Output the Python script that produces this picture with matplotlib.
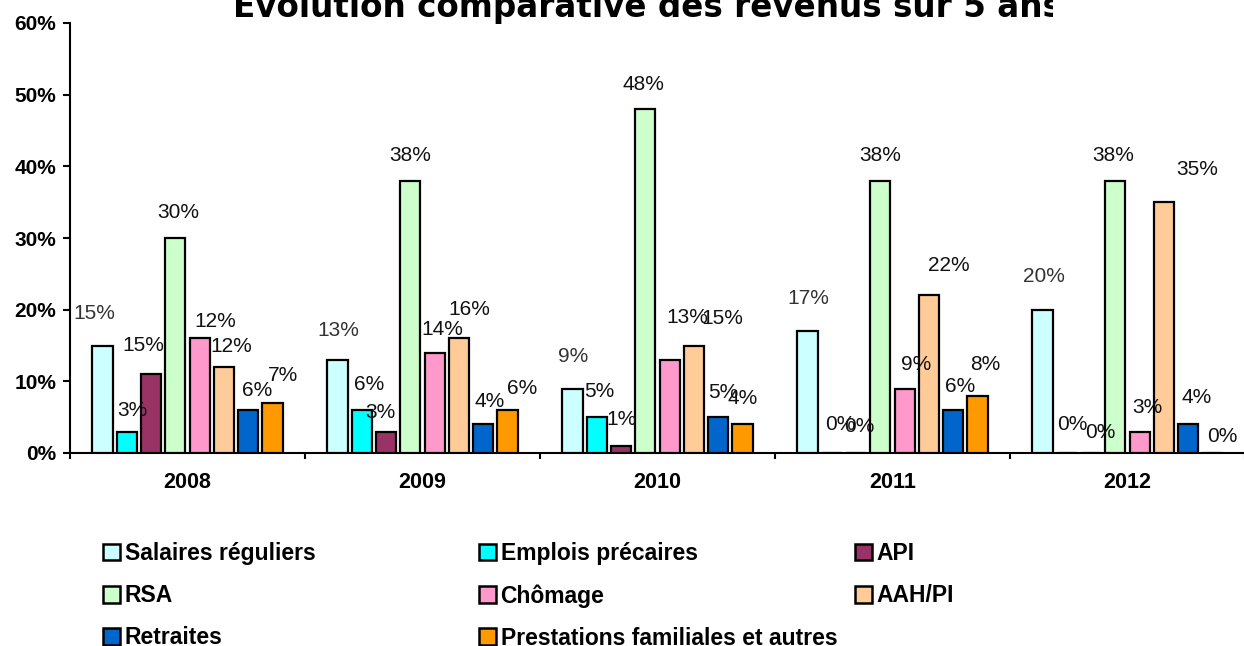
import matplotlib
matplotlib.use('Agg')
import matplotlib.pyplot as plt
from matplotlib.transforms import Bbox
from matplotlib.patches import Patch
from matplotlib.ticker import FixedLocator, FuncFormatter

# ---------------- data ----------------
years = ['2008', '2009', '2010', '2011', '2012']
series_names = ['Salaires réguliers', 'Emplois précaires', 'API', 'RSA',
                'Chômage', 'AAH/PI', 'Retraites', 'Prestations familiales et autres']

salaires = [15, 13, 9, 17, 20]
emplois = [3, 6, 5, 0, 0]
api = [11, 3, 1, 0, 0]
rsa = [30, 38, 48, 38, 38]
chomage = [16, 14, 13, 9, 3]
aah = [12, 16, 15, 22, 35]
retraites = [6, 4, 5, 6, 4]
prestations = [7, 6, 4, 8, 0]

# data labels as printed on the chart
lab_salaires = ['15%', '13%', '9%', '17%', '20%']
lab_emplois = ['3%', '6%', '5%', '0%', '0%']
lab_api = ['15%', '3%', '1%', '0%', '0%']
lab_rsa = ['30%', '38%', '48%', '38%', '38%']
lab_chomage = ['12%', '14%', '13%', '9%', '3%']
lab_aah = ['12%', '16%', '15%', '22%', '35%']
lab_retraites = ['6%', '4%', '5%', '6%', '4%']
lab_prestations = ['7%', '6%', '4%', '8%', '0%']

title_text = 'Evolution comparative des revenus sur 5 ans'

values = [salaires, emplois, api, rsa, chomage, aah, retraites, prestations]
labels = [lab_salaires, lab_emplois, lab_api, lab_rsa, lab_chomage, lab_aah,
          lab_retraites, lab_prestations]

# ---------------- styles ----------------
colors = ['#CCFFFF', '#00FFFF', '#993366', '#CCFFCC', '#FF99CC', '#FFCC99',
          '#0066CC', '#FF9900']
label_colors = ['#333333'] + ['#111111'] * 7

# label offsets (pixels) relative to bar top centre: dx, dy(up) to text centre
off_dx = [
    [-8, 1, 1, 1, 1],
    [6, 7, 3, 9, 6],
    [-8, -6, 0, 3, 9],
    [3, 0, -2, 0, -2],
    [16, 8, 18, 11, 8],
    [7, 10, 28, 20, 33],
    [9, 6, 5, 7, 8],
    [10, 15, 0, 8, 10],
]
off_dy = [
    [34, 31, 34, 35, 35],
    [23, 27, 28, 30, 31],
    [31, 21, 28, 28, 23],
    [27, 27, 27, 27, 27],
    [19, 25, 44, 26, 26],
    [23, 31, 29, 32, 35],
    [21, 25, 27, 26, 29],
    [29, 23, 28, 33, 19],
]

W, H = 1244, 646
fig = plt.figure(figsize=(W / 100, H / 100), dpi=100)
fig.patch.set_facecolor('white')
ax = fig.add_axes([70 / W, (H - 453) / H, 1175 / W, 430 / H])

pitch = 0.1034
width = 0.086
xs = range(len(years))
for j, (vals, col) in enumerate(zip(values, colors)):
    pos = [i + (j - 3.5) * pitch for i in xs]
    ax.bar(pos, vals, width=width, color=col, edgecolor='black', linewidth=1.6,
           zorder=3)
    for i, (p, v, t) in enumerate(zip(pos, vals, labels[j])):
        ax.annotate(t, xy=(p, v), xytext=(off_dx[j][i], off_dy[j][i] - 7.5),
                    textcoords='offset pixels', ha='center', va='baseline',
                    fontsize=15, family='Liberation Sans',
                    color=label_colors[j], zorder=5, annotation_clip=False)

ax.set_xlim(-0.5, 4.5)
ax.set_ylim(0, 60)
ax.set_yticks(range(0, 61, 10))
ax.yaxis.set_major_formatter(FuncFormatter(lambda v, p: f'{int(v)}%'))
ax.set_xticks(list(xs))
ax.set_xticklabels(years)
ax.xaxis.set_minor_locator(FixedLocator([-0.5 + k for k in range(6)]))

for s in ['top', 'right']:
    ax.spines[s].set_visible(False)
for s in ['left', 'bottom']:
    ax.spines[s].set_linewidth(1.5)
    ax.spines[s].set_color('black')

ax.tick_params(axis='y', direction='out', length=5, width=1.5, pad=5,
               labelsize=15)
ax.tick_params(axis='x', which='major', length=0, pad=14, labelsize=15.5)
ax.tick_params(axis='x', which='minor', direction='out', length=4, width=1.5)
for lab in ax.get_xticklabels() + ax.get_yticklabels():
    lab.set_fontweight('bold')
    lab.set_family('Liberation Sans')

# title (clipped on the right and top, as in the reference)
t = fig.text(233 / W, (H - 17) / H, title_text,
             ha='left', va='baseline', fontsize=21, fontweight='bold',
             family='DejaVu Sans')
renderer = fig.canvas.get_renderer()
probe = fig.text(0, 0, title_text[:-1], fontsize=21, fontweight='bold',
                 family='DejaVu Sans')
wpx = probe.get_window_extent(renderer).width
probe.remove()
t.set_fontsize(21 * 810 / wpx)
t.set_clip_box(Bbox([[0, 0], [1053, H]]))
t.set_clip_on(True)

# legend: three columns, row-major order
handles = [Patch(facecolor=c, edgecolor='black', linewidth=1.8) for c in colors]
col_groups = [[0, 3, 6], [1, 4, 7], [2, 5]]
col_x = [103, 479, 855]
for grp, cx in zip(col_groups, col_x):
    fig.legend([handles[k] for k in grp], [series_names[k] for k in grp],
               loc='upper left', bbox_to_anchor=(cx / W, (H - 542) / H),
               frameon=False, borderpad=0, borderaxespad=0,
               handlelength=0.72, handleheight=0.76, handletextpad=0.22,
               labelspacing=0.83,
               prop={'family': 'Liberation Sans', 'weight': 'bold',
                     'size': 16.5})

fig.savefig('out.png', dpi=100, facecolor='white')
